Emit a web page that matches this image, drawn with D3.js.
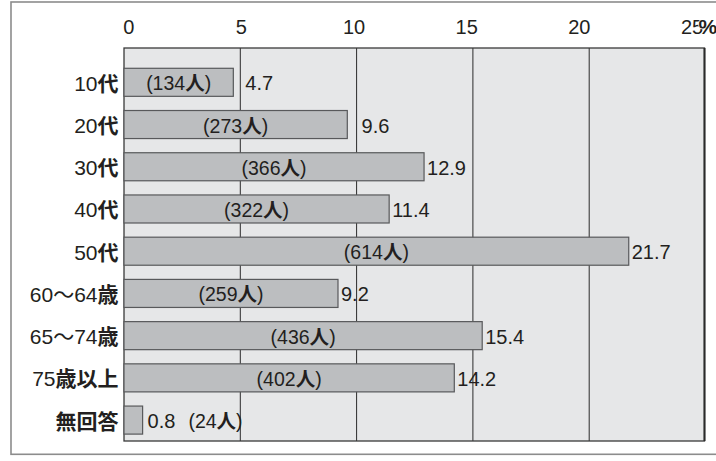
<!DOCTYPE html>
<html><head><meta charset="utf-8">
<script src="https://cdn.jsdelivr.net/npm/d3@7"></script>
<style>body{margin:0;background:#fff}</style>
</head><body><svg id="c" width="716" height="461"></svg>
<script>
const categories = ["10代","20代","30代","40代","50代","60～64歳","65～74歳","75歳以上","無回答"];
const percents = [4.7, 9.6, 12.9, 11.4, 21.7, 9.2, 15.4, 14.2, 0.8];
const counts = [134, 273, 366, 322, 614, 259, 436, 402, 24];
const tickValues = [0, 5, 10, 15, 20, 25];
const unitLabel = "%";
const countSuffix = "人";

const svg = d3.select("#c");
const FONT = "'Liberation Sans', Arial, 'Noto Sans CJK JP', sans-serif";
const FS = 20;
const TXT = "#231f20";
const plot = {left:124, right:704.5, top:48, bottom:441};

const x = d3.scaleLinear().domain([0,25]).range([124, 705.5]);
const xLab = d3.scaleLinear().domain([0,25]).range([128.7, 692]);
const y = d3.scaleBand().domain(categories).range([61.2, 441.2]).paddingInner(0.336).paddingOuter(0.168);

// outer frame
svg.append("rect").attr("x",11).attr("y",2).attr("width",720).attr("height",452.3)
  .attr("fill","#fff").attr("stroke","#8c8c8c").attr("stroke-width",1.6);

// plot background
svg.append("rect").attr("x",plot.left).attr("y",plot.top)
  .attr("width",plot.right-plot.left).attr("height",plot.bottom-plot.top)
  .attr("fill","#e6e7e8");

// gridlines
svg.append("g").selectAll("line").data(tickValues.filter(t=>t>0 && t<25)).join("line")
  .attr("x1",d=>x(d)).attr("x2",d=>x(d)).attr("y1",plot.top).attr("y2",plot.bottom)
  .attr("stroke","#2b2b2b").attr("stroke-width",1);

// plot border
svg.append("rect").attr("x",plot.left).attr("y",plot.top)
  .attr("width",plot.right-plot.left).attr("height",plot.bottom-plot.top)
  .attr("fill","none").attr("stroke","#3a3a3a").attr("stroke-width",1.3);
svg.append("line").attr("x1",plot.right).attr("x2",plot.right).attr("y1",plot.top).attr("y2",plot.bottom)
  .attr("stroke","#2a2a2a").attr("stroke-width",2);

// mixed-weight text helper: CJK glyphs bold
function mixed(sel, str){
  const runs = [];
  const re = /[\u4e00-\u9fff]+|[^\u4e00-\u9fff]+/g;
  let m;
  while((m = re.exec(str))) runs.push(m[0]);
  runs.forEach(r=>{
    const cjk = /[\u4e00-\u9fff]/.test(r);
    sel.append("tspan").text(r).attr("font-weight", cjk ? "bold" : "normal")
      .attr("font-family", cjk ? "'Noto Sans CJK JP', sans-serif" : FONT);
  });
}

// x tick labels
const tg = svg.append("g").attr("font-family",FONT).attr("font-size",FS).attr("fill",TXT);
tickValues.forEach(t=>{
  tg.append("text").attr("x",xLab(t)).attr("y",34).attr("text-anchor","middle").text(t);
});
tg.append("text").attr("x",698.5).attr("y",33.5).attr("font-weight","bold")
  .attr("stroke","#fff").attr("stroke-width",1.5).attr("paint-order","stroke")
  .attr("font-size",21).text(unitLabel);

// category labels
const cg = svg.append("g").attr("font-size",21).attr("fill",TXT).attr("text-anchor","end");
categories.forEach(c=>{
  const t = cg.append("text").attr("x",118.5).attr("y",y(c)+y.bandwidth()/2+8.5);
  mixed(t, c);
});

// bars
svg.append("g").selectAll("rect").data(categories).join("rect")
  .attr("x",x(0)).attr("y",d=>y(d)).attr("height",y.bandwidth())
  .attr("width",(d,i)=>x(percents[i])-x(0))
  .attr("fill","#bcbec0").attr("stroke","#58595b").attr("stroke-width",1.2);

// labels
const lg = svg.append("g").attr("font-size",FS).attr("fill",TXT).attr("font-family",FONT);
categories.forEach((c,i)=>{
  const v = percents[i];
  const end = x(v);
  const cy = y(c)+y.bandwidth()/2+8;
  let vx = end + 3;
  const next = tickValues.find(t=>x(t) > end);
  if(next !== undefined && x(next)-end < 10) vx = x(next)+5;
  if(end - x(0) < 20) vx = end + 5;
  const vt = lg.append("text").attr("x",vx).attr("y",cy).text(v.toFixed(1));
  const label = "(" + counts[i] + countSuffix + ")";
  const barW = end - x(0);
  if(barW > 80){
    const t = lg.append("text").attr("x",(x(0)+end)/2).attr("y",cy).attr("text-anchor","middle").attr("font-size",19.5);
    mixed(t, label);
  } else {
    const w = vt.node().getComputedTextLength();
    const t = lg.append("text").attr("x",vx+w+13).attr("y",cy).attr("font-size",19.5);
    mixed(t, label);
  }
});
</script></body></html>
